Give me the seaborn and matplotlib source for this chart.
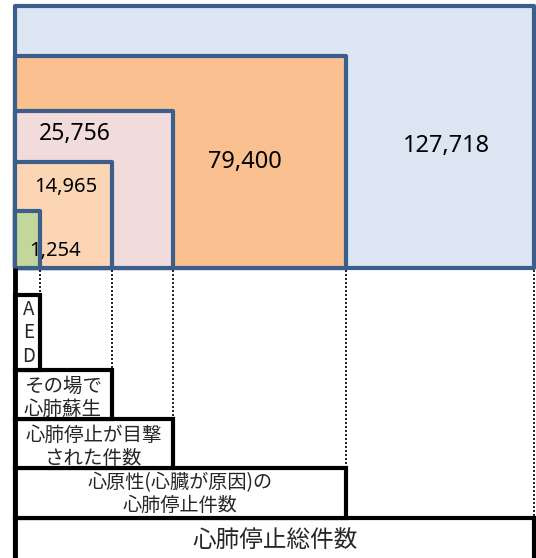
import matplotlib
matplotlib.use("Agg")
import matplotlib.pyplot as plt
from matplotlib.patches import Rectangle
import seaborn as sns

# --- data ---
values = [127718, 79400, 25756, 14965, 1254]
categories = ["心肺停止総件数", "心原性(心臓が原因)の\n心肺停止件数", "心肺停止が目撃\nされた件数",
              "その場で\n心肺蘇生", "A\nE\nD"]
fills = ["#DCE6F2", "#FAC090", "#F2DCDB", "#FCD5B5", "#C3D69B"]

# --- layout (pixel coords of the original drawing) ---
x0, base = 15, 268
rights = [534, 346, 173, 112, 40]
tops = [6, 56, 111, 162, 211]
num_pos = [(446, 146), (245, 162), (75, 134), (66, 187), (55, 251)]
num_size = [17, 17, 16.5, 14.5, 14.5]
box_tops = [518, 468, 419, 370, 295]
box_bottoms = [562, 518, 468, 419, 370]

sns.set_theme(style="white")
plt.rcParams['font.family'] = ['Noto Sans CJK JP', 'DejaVu Sans']

fig = plt.figure(figsize=(5.36, 5.58), dpi=100)
ax = fig.add_axes([0, 0, 1, 1])
ax.set_xlim(0, 536)
ax.set_ylim(558, 0)
ax.axis("off")

# nested rectangles
for v, r, t, c, (tx, ty), fs in zip(values, rights, tops, fills, num_pos, num_size):
    ax.add_patch(Rectangle((x0, t), r - x0, base - t, facecolor=c,
                           edgecolor="#3B5E8C", lw=3, joinstyle="round"))
    ax.text(tx, ty, f"{v:,}", ha="center", va="center", fontsize=fs,
            family="Noto Sans", color="black")

# dotted guides
for r, bt in zip(rights, box_tops):
    ax.plot([r, r], [base + 2, bt], color="black", ls=(0, (1.2, 1.2)), lw=1.2)

# left black spine
ax.plot([x0, x0], [base, 560], color="black", lw=3.5, solid_capstyle="butt")

# label boxes
for lab, r, bt, bb in zip(categories, rights, box_tops, box_bottoms):
    ax.add_patch(Rectangle((x0, bt), r - x0, bb - bt, facecolor="white",
                           edgecolor="black", lw=3))

ax.text(275, 540, categories[0], ha="center", va="center", fontsize=17)
ax.text(180, 494, categories[1], ha="center", va="center", fontsize=13.8, linespacing=1.1)
ax.text(94, 447, categories[2], ha="center", va="center", fontsize=14, linespacing=1.1)
ax.text(63, 398, categories[3], ha="center", va="center", fontsize=14, linespacing=1.1)
ax.text(29, 333, categories[4], ha="center", va="center", fontsize=13.5, linespacing=1.15)

fig.savefig("out.png", dpi=100)
